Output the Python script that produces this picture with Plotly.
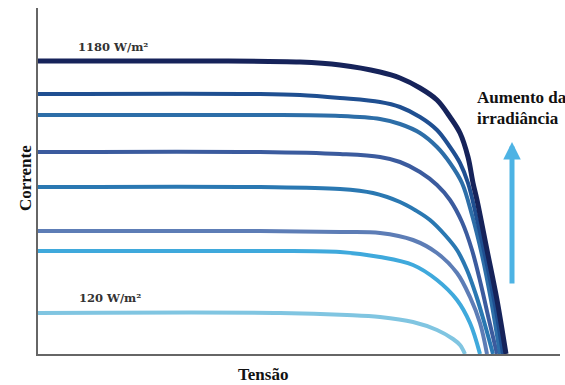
import plotly.graph_objects as go

# Voltage / current readings (arbitrary units) for each irradiance curve, highest first
v1 = [0, 162, 262, 302, 342, 362, 382, 399, 412, 422, 430, 435, 439, 449, 459, 468]
i1 = [293, 293, 292, 289, 282, 276, 266, 254, 237, 221, 197, 171, 154, 104, 54, 0]

v2 = [0, 222, 262, 302, 342, 362, 382, 399, 412, 422, 430, 438, 448, 457, 465]
i2 = [260, 260, 259, 256, 252, 247, 237, 224, 207, 191, 171, 139, 94, 49, 0]

v3 = [0, 222, 302, 342, 362, 382, 399, 412, 424, 434, 444, 453, 462]
i3 = [239, 239, 238, 235, 230, 221, 207, 191, 171, 139, 99, 54, 0]

v4 = [0, 222, 302, 342, 362, 382, 399, 412, 424, 434, 443, 451, 459]
i4 = [202, 202, 200, 197, 192, 182, 169, 154, 132, 104, 69, 34, 0]

v5 = [0, 222, 302, 335, 362, 377, 392, 407, 419, 429, 438, 447, 455]
i5 = [167, 167, 165, 161, 152, 144, 134, 119, 104, 84, 59, 29, 0]

v6 = [0, 222, 302, 342, 375, 399, 419, 432, 442, 449]
i6 = [123, 123, 122, 121, 114, 101, 81, 57, 31, 0]

v7 = [0, 222, 302, 342, 375, 399, 419, 432, 442]
i7 = [103, 103, 102, 97, 89, 74, 54, 31, 0]

v8 = [0, 242, 309, 342, 375, 399, 415, 422, 427]
i8 = [41, 41, 39, 37, 32, 24, 15, 9, 0]

curves = [
    (v1, i1, "#16235a", 5),
    (v2, i2, "#1f4f91", 4),
    (v3, i3, "#2d6ea8", 4),
    (v4, i4, "#3b5b9e", 4),
    (v5, i5, "#2a78b2", 4),
    (v6, i6, "#5d7db6", 4),
    (v7, i7, "#3fa9dc", 4),
    (v8, i8, "#80c5e1", 4),
]

fig = go.Figure()
for v, i, c, w in reversed(curves):
    fig.add_trace(go.Scatter(x=v, y=i, mode="lines",
                             line=dict(color=c, width=w, shape="spline", smoothing=1.0),
                             hoverinfo="skip", showlegend=False))

serif = "Liberation Serif"
fig.add_annotation(x=38, y=307, xref="x", yref="y", text="1180 W/m²", showarrow=False,
                   xanchor="left", yanchor="middle",
                   font=dict(family="DejaVu Serif", size=11.5, color="#333333", weight="bold"))
fig.add_annotation(x=39, y=56, xref="x", yref="y", text="120 W/m²", showarrow=False,
                   xanchor="left", yanchor="middle",
                   font=dict(family="DejaVu Serif", size=11.5, color="#333333", weight="bold"))
fig.add_annotation(x=437 / 522, y=257 / 346, xref="paper", yref="paper", text="Aumento da",
                   showarrow=False, xanchor="left", yanchor="middle",
                   font=dict(family=serif, size=17, color="#111111", weight="bold"))
fig.add_annotation(x=437 / 522, y=236 / 346, xref="paper", yref="paper", text="irradiância",
                   showarrow=False, xanchor="left", yanchor="middle",
                   font=dict(family=serif, size=17, color="#111111", weight="bold"))
fig.add_annotation(x=474, y=212, ax=474, ay=69, xref="x", yref="y", axref="x", ayref="y",
                   text="", showarrow=True, arrowhead=2, arrowsize=0.7, arrowwidth=5,
                   arrowcolor="#4db3e4")
fig.add_annotation(x=225 / 522, y=-20 / 346, xref="paper", yref="paper", text="Tensão",
                   showarrow=False, xanchor="center", yanchor="middle",
                   font=dict(family=serif, size=17, color="#111111", weight="bold"))
fig.add_annotation(x=-13 / 522, y=176 / 346, xref="paper", yref="paper", text="Corrente",
                   showarrow=False, textangle=-90, xanchor="center", yanchor="middle",
                   font=dict(family=serif, size=17, color="#111111", weight="bold"))

fig.update_xaxes(range=[0, 522], showline=True, linecolor="#666666", linewidth=2,
                 showgrid=False, zeroline=False, showticklabels=False, ticks="")
fig.update_yaxes(range=[0, 346], showline=True, linecolor="#666666", linewidth=2,
                 showgrid=False, zeroline=False, showticklabels=False, ticks="")
fig.update_layout(width=565, height=385, margin=dict(l=38, r=5, t=8, b=31),
                  paper_bgcolor="white", plot_bgcolor="white")

fig.write_html("out.html", config={"displayModeBar": False},
               post_script="document.body.style.margin='0';")
